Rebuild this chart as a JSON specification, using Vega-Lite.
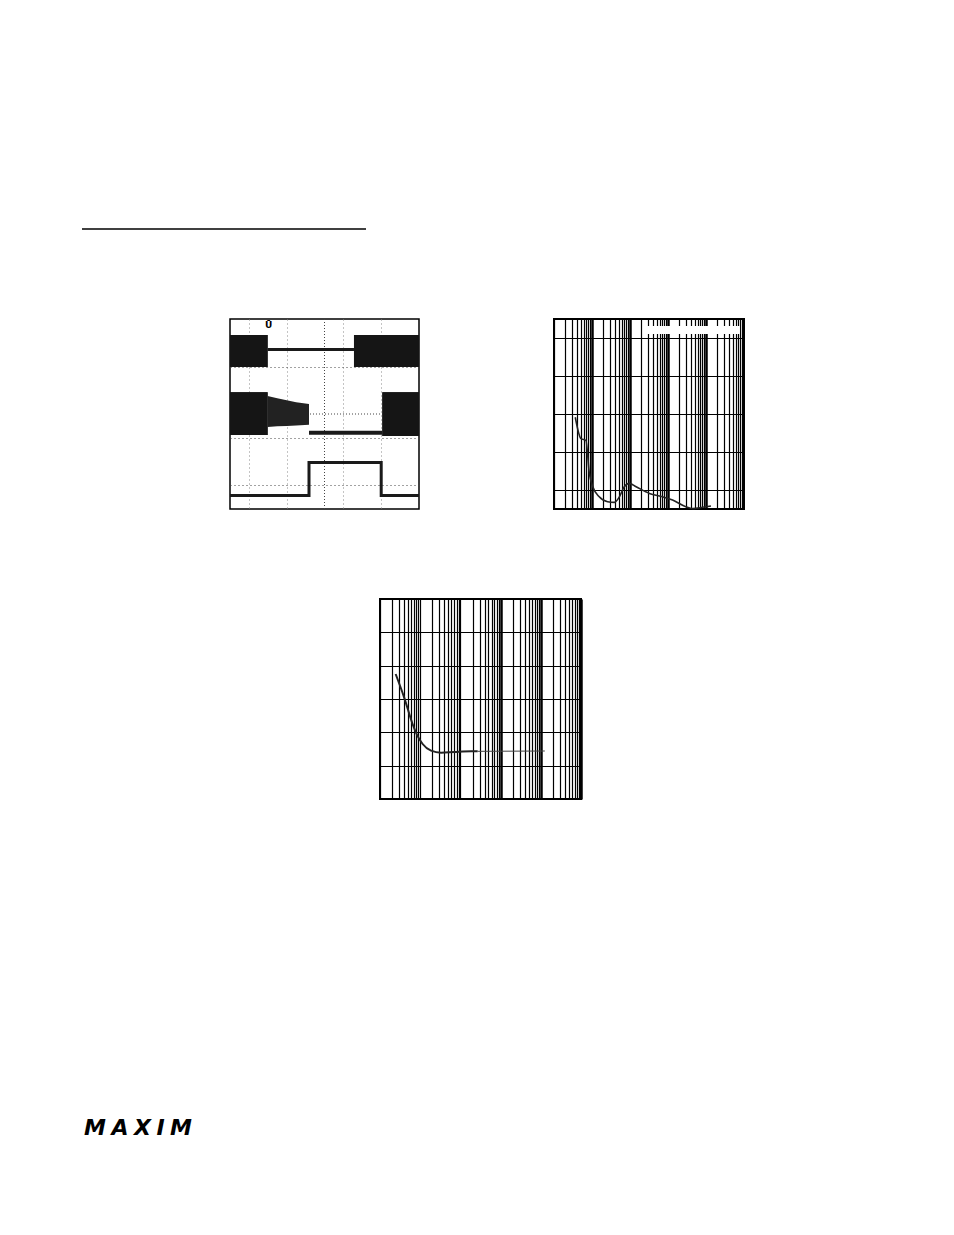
{
  "$schema": "https://vega.github.io/schema/vega-lite/v6.json",
  "background": "white",
  "padding": {"left": 81, "top": 219, "right": 0, "bottom": 0},
  "bounds": "full",
  "spacing": 0,
  "config": {"view": {"stroke": null}, "axis": {"minExtent": 0, "labels": false, "domain": false, "ticks": false, "title": null}},
  "datasets": {
    "empty": [],
    "head": [{"k": 1}],
    "bands": [
      {"x0": 0, "x1": 1.99, "y0": 5.98, "y1": 7.33},
      {"x0": 6.56, "x1": 10, "y0": 5.98, "y1": 7.33},
      {"x0": 0, "x1": 1.99, "y0": 3.12, "y1": 4.92},
      {"x0": 8.06, "x1": 10, "y0": 3.07, "y1": 4.92}
    ],
    "narrow": [
      {"x": 1.99, "top": 4.76, "bot": 3.45},
      {"x": 2.5, "top": 4.66, "bot": 3.48},
      {"x": 3.0, "top": 4.58, "bot": 3.5},
      {"x": 3.5, "top": 4.5, "bot": 3.52},
      {"x": 4.18, "top": 4.42, "bot": 3.55}
    ],
    "traces": [
      {"trace": "t1", "ord": 1, "x": 1.99, "y": 6.72},
      {"trace": "t1", "ord": 2, "x": 6.56, "y": 6.72},
      {"trace": "t2", "ord": 1, "x": 4.18, "y": 3.21},
      {"trace": "t2", "ord": 2, "x": 8.06, "y": 3.21},
      {"trace": "t3", "ord": 1, "x": 0, "y": 0.57},
      {"trace": "t3", "ord": 2, "x": 4.18, "y": 0.57},
      {"trace": "t3", "ord": 3, "x": 4.18, "y": 1.96},
      {"trace": "t3", "ord": 4, "x": 8.0, "y": 1.96},
      {"trace": "t3", "ord": 5, "x": 8.0, "y": 0.57},
      {"trace": "t3", "ord": 6, "x": 10, "y": 0.57}
    ],
    "marker": [{"x": 2.04, "y": 7.75, "t": "Ū"}],
    "c2": [
      {"f": 3.63, "v": 4.83}, {"f": 5.13, "v": 3.7}, {"f": 6.92, "v": 3.61}, {"f": 8.51, "v": 1.87},
      {"f": 10.5, "v": 1.17}, {"f": 15.5, "v": 0.64}, {"f": 25.7, "v": 0.38}, {"f": 38.9, "v": 0.35},
      {"f": 52.5, "v": 0.64}, {"f": 70.8, "v": 1.17}, {"f": 95.5, "v": 1.35}, {"f": 145, "v": 1.17},
      {"f": 324, "v": 0.82}, {"f": 724, "v": 0.64}, {"f": 1318, "v": 0.47}, {"f": 2951, "v": 0.12},
      {"f": 4467, "v": 0.02}, {"f": 8128, "v": 0.09}, {"f": 13490, "v": 0.16}
    ],
    "c2box": [{"x0": 219, "x1": 77600, "y0": 9.21, "y1": 9.63}],
    "c3": [
      {"seg": "a", "f": 2.45, "v": 3.75}, {"seg": "a", "f": 3.98, "v": 3.05}, {"seg": "a", "f": 6.46, "v": 2.25},
      {"seg": "a", "f": 8.51, "v": 1.9}, {"seg": "a", "f": 11.5, "v": 1.65}, {"seg": "a", "f": 18.6, "v": 1.45},
      {"seg": "a", "f": 33.1, "v": 1.39}, {"seg": "a", "f": 70.8, "v": 1.41}, {"seg": "a", "f": 186, "v": 1.43},
      {"seg": "a", "f": 269, "v": 1.43},
      {"seg": "b", "f": 269, "v": 1.43}, {"seg": "b", "f": 12590, "v": 1.44}
    ],
    "logo": [{"x": 2, "y": 5, "t": "M\u2005A\u2005X\u2005I\u2005M"}]
  },
  "vconcat": [
    {
      "width": 284, "height": 98,
      "data": {"name": "head"},
      "mark": {"type": "rule", "color": "black", "strokeWidth": 1.4},
      "encoding": {"y": {"datum": 88, "type": "quantitative", "scale": {"domain": [0, 98]}, "axis": null}}
    },
    {
      "hconcat": [
        {"width": 148, "height": 190, "data": {"name": "empty"}, "mark": "point"},
        {
          "width": 189, "height": 190,
          "view": {"stroke": "black", "strokeWidth": 1.5},
          "layer": [
            {
              "data": {"name": "bands"},
              "mark": {"type": "rect", "fill": "#151515"},
              "encoding": {
                "x": {"field": "x0", "type": "quantitative", "scale": {"domain": [0, 10], "nice": false, "zero": false},
                  "axis": {"values": [1, 2, 3, 4, 6, 7, 8, 9], "grid": true, "gridColor": "#888", "gridDash": [1, 3], "gridWidth": 1}},
                "x2": {"field": "x1"},
                "y": {"field": "y0", "type": "quantitative", "scale": {"domain": [0, 8], "nice": false, "zero": false},
                  "axis": {"values": [1, 2, 3, 5, 6, 7], "grid": true, "gridColor": "#444", "gridDash": [1, 3], "gridWidth": 1}},
                "y2": {"field": "y1"}
              }
            },
            {
              "data": {"name": "head"},
              "mark": {"type": "rule", "color": "#444", "strokeDash": [1, 2], "strokeWidth": 1},
              "encoding": {"x": {"datum": 5, "type": "quantitative"}}
            },
            {
              "data": {"name": "head"},
              "mark": {"type": "rule", "color": "#444", "strokeDash": [1, 2], "strokeWidth": 1},
              "encoding": {"y": {"datum": 4, "type": "quantitative"}}
            },
            {
              "data": {"name": "bands"},
              "mark": {"type": "rect", "fill": "#151515"},
              "encoding": {
                "x": {"field": "x0", "type": "quantitative"},
                "x2": {"field": "x1"},
                "y": {"field": "y0", "type": "quantitative"},
                "y2": {"field": "y1"}
              }
            },
            {
              "data": {"name": "narrow"},
              "mark": {"type": "area", "color": "#222"},
              "encoding": {
                "x": {"field": "x", "type": "quantitative"},
                "y": {"field": "top", "type": "quantitative"},
                "y2": {"field": "bot"}
              }
            },
            {
              "data": {"name": "traces"},
              "transform": [{"filter": "datum.trace != 't2'"}],
              "mark": {"type": "line", "color": "#1a1a1a", "strokeWidth": 3},
              "encoding": {
                "x": {"field": "x", "type": "quantitative"},
                "y": {"field": "y", "type": "quantitative"},
                "detail": {"field": "trace"},
                "order": {"field": "ord"}
              }
            },
            {
              "data": {"name": "traces"},
              "transform": [{"filter": "datum.trace == 't2'"}],
              "mark": {"type": "line", "color": "#1a1a1a", "strokeWidth": 4},
              "encoding": {
                "x": {"field": "x", "type": "quantitative"},
                "y": {"field": "y", "type": "quantitative"},
                "order": {"field": "ord"}
              }
            },
            {
              "data": {"name": "marker"},
              "mark": {"type": "text", "fontSize": 9, "fontWeight": "bold", "font": "DejaVu Sans", "color": "black"},
              "encoding": {
                "x": {"field": "x", "type": "quantitative"},
                "y": {"field": "y", "type": "quantitative"},
                "text": {"field": "t"}
              }
            }
          ]
        },
        {"width": 135, "height": 190, "data": {"name": "empty"}, "mark": "point"},
        {
          "width": 190, "height": 190,
          "view": {"stroke": "black", "strokeWidth": 2},
          "layer": [
            {
              "data": {"name": "c2box"},
              "mark": {"type": "rect", "fill": "white"},
              "encoding": {
                "x": {"field": "x0", "type": "quantitative", "scale": {"type": "log", "domain": [1, 100000], "nice": false},
                  "axis": {"values": [1,2,3,4,5,6,7,8,9,10,20,30,40,50,60,70,80,90,100,200,300,400,500,600,700,800,900,1000,2000,3000,4000,5000,6000,7000,8000,9000,10000,20000,30000,40000,50000,60000,70000,80000,90000,100000],
                    "grid": true, "gridColor": "black", "gridOpacity": 1,
                    "gridWidth": {"condition": {"test": "indexof([10,100,1000,10000], datum.value) >= 0", "value": 2.5}, "value": 1.2}}},
                "x2": {"field": "x1"},
                "y": {"field": "y0", "type": "quantitative", "scale": {"domain": [0, 10], "nice": false, "zero": false},
                  "axis": {"values": [1,2,3,4,5,6,7,8,9], "grid": true, "gridColor": "black", "gridOpacity": 1, "gridWidth": 1.2}},
                "y2": {"field": "y1"}
              }
            },
            {
              "data": {"name": "c2"},
              "mark": {"type": "line", "color": "#222", "strokeWidth": 1.6, "interpolate": "monotone"},
              "encoding": {
                "x": {"field": "f", "type": "quantitative"},
                "y": {"field": "v", "type": "quantitative"}
              }
            }
          ]
        }
      ],
      "spacing": 0,
      "bounds": "flush"
    },
    {"width": 1, "height": 85, "data": {"name": "empty"}, "mark": "point"},
    {
      "hconcat": [
        {"width": 298, "height": 200, "data": {"name": "empty"}, "mark": "point"},
        {
          "width": 201, "height": 200,
          "view": {"stroke": "black", "strokeWidth": 2},
          "data": {"name": "c3"},
          "layer": [
            {
              "transform": [{"filter": "datum.seg == 'a'"}],
              "mark": {"type": "line", "interpolate": "monotone", "color": "#222", "strokeWidth": 2},
              "encoding": {
                "x": {"field": "f", "type": "quantitative", "scale": {"type": "log", "domain": [1, 100000], "nice": false},
                  "axis": {"values": [1,2,3,4,5,6,7,8,9,10,20,30,40,50,60,70,80,90,100,200,300,400,500,600,700,800,900,1000,2000,3000,4000,5000,6000,7000,8000,9000,10000,20000,30000,40000,50000,60000,70000,80000,90000,100000],
                    "grid": true, "gridColor": "black", "gridOpacity": 1,
                    "gridWidth": {"condition": {"test": "indexof([1000,10000,100000], datum.value) >= 0", "value": 2.5}, "value": 1.2}}},
                "y": {"field": "v", "type": "quantitative", "scale": {"domain": [0, 6], "nice": false, "zero": false},
                  "axis": {"values": [1,2,3,4,5], "grid": true, "gridColor": "black", "gridOpacity": 1, "gridWidth": 1.2}}
              }
            },
            {
              "transform": [{"filter": "datum.seg == 'b'"}],
              "mark": {"type": "line", "color": "#444", "strokeWidth": 1},
              "encoding": {
                "x": {"field": "f", "type": "quantitative"},
                "y": {"field": "v", "type": "quantitative"}
              }
            }
          ]
        }
      ],
      "spacing": 0,
      "bounds": "flush"
    },
    {
      "width": 120, "height": 340,
      "data": {"name": "logo"},
      "mark": {"type": "text", "font": "DejaVu Sans", "fontWeight": "bold", "fontStyle": "italic", "fontSize": 22, "align": "left", "baseline": "alphabetic", "color": "black"},
      "encoding": {
        "x": {"field": "x", "type": "quantitative", "scale": {"domain": [0, 120]}, "axis": null},
        "y": {"field": "y", "type": "quantitative", "scale": {"domain": [0, 340]}, "axis": null},
        "text": {"field": "t"}
      }
    }
  ]
}
